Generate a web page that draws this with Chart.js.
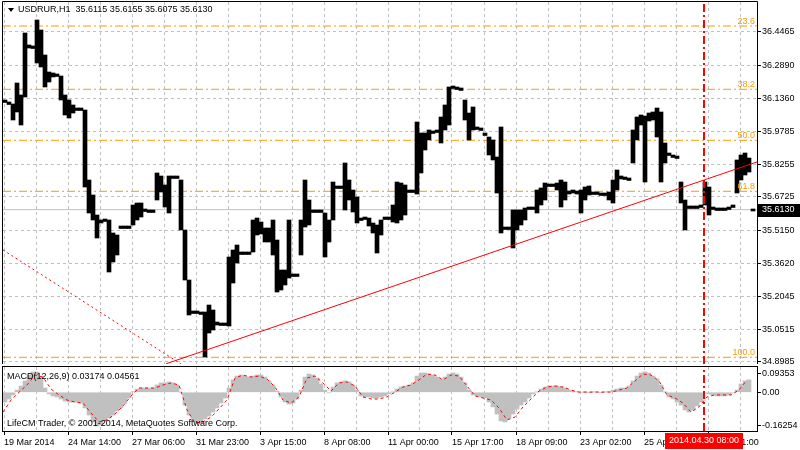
<!DOCTYPE html>
<html>
<head>
<meta charset="utf-8">
<script src="https://cdn.jsdelivr.net/npm/chart.js"></script>
<style>
  body { margin: 0; background: #fff; }
  #wrap { position: relative; width: 800px; height: 450px; overflow: hidden; }
  #wrap canvas { position: absolute; left: 0; }
  #price { top: 0; }
  #macd { top: 364px; }
</style>
</head>
<body>
<div id="wrap">
  <canvas id="price" width="800" height="372"></canvas>
  <canvas id="macd" width="800" height="86"></canvas>
</div>
<script>
const symbolTitle = 'USDRUR,H1  35.6115 35.6155 35.6075 35.6130';
const lastClose = 35.6130;

// H1 bars in groups of 4 bars: high / low of each group
const priceHigh = [
  36.1275, 36.1181, 36.1087, 36.2072, 36.1510, 36.4418, 36.3855, 36.3808, 36.5028, 36.4559,
  36.3386, 36.2588, 36.2542, 36.2495, 36.2401, 36.1510, 36.1275, 36.1041, 36.0900, 36.0900,
  36.0806, 35.7522, 35.6819, 35.5880, 35.5646, 35.5692, 35.5646, 35.5036, 35.4942, 35.5364,
  35.5364, 35.5364, 35.6350, 35.6443, 35.6443, 35.6162, 35.6115, 35.6115, 35.7851, 35.7710,
  35.7288, 35.7710, 35.7710, 35.7710, 35.7522, 35.5177, 35.2831, 35.1377, 35.1377, 35.1330,
  35.1330, 35.1658, 35.1424, 35.0861, 35.0814, 35.0814, 35.3910, 35.4239, 35.4473, 35.4145,
  35.4145, 35.4145, 35.5646, 35.5739, 35.5552, 35.5270, 35.5270, 35.5646, 35.4708, 35.3300,
  35.3300, 35.5646, 35.3113, 35.3113, 35.5646, 35.7522, 35.6584, 35.6115, 35.6115, 35.6115,
  35.5974, 35.5646, 35.7428, 35.7241, 35.7241, 35.8320, 35.7522, 35.7053, 35.6725, 35.5739,
  35.5786, 35.5739, 35.5505, 35.5411, 35.5646, 35.5786, 35.5786, 35.6350, 35.7428, 35.7381,
  35.7288, 35.7053, 35.7053, 36.0243, 35.9727, 35.9727, 35.9868, 35.9821, 35.9868, 36.0478,
  36.1041, 36.1885, 36.1932, 36.1885, 36.1838, 36.1275, 36.0665, 36.0947, 36.0009, 35.9962,
  35.9727, 35.9539, 35.9399, 35.8601, 36.0009, 35.5317, 35.5317, 35.6115, 35.6115, 35.6115,
  35.6209, 35.6256, 35.6256, 35.7053, 35.7147, 35.7381, 35.7334, 35.7334, 35.7381, 35.7522,
  35.7428, 35.7006, 35.7053, 35.7006, 35.7053, 35.7194, 35.7241, 35.6959, 35.6959, 35.6912,
  35.6912, 35.6959, 35.7522, 35.7991, 35.7710, 35.7663, 35.7616, 35.9868, 36.0478, 36.0571,
  36.0524, 36.0665, 36.0712, 36.0900, 36.0712, 35.9258, 35.8789, 35.8695, 35.8648, 35.7428,
  35.6584, 35.6303, 35.6303, 35.6303, 35.6350, 35.7428, 35.7194, 35.6256, 35.6209, 35.6209,
  35.6209, 35.6256, 35.6350, 35.8461, 35.8695, 35.8789, 35.8554, 35.6162
];
const priceLow = [
  36.1158, 36.1064, 36.0337, 36.0712, 36.0102, 36.1416, 36.3714, 36.3691, 36.3011, 36.2823,
  36.1885, 36.2119, 36.2354, 36.2378, 36.1275, 36.0571, 36.0431, 36.0665, 36.0783, 36.0783,
  35.7194, 35.5974, 35.5646, 35.4801, 35.5505, 35.5575, 35.3206, 35.3676, 35.4004, 35.5247,
  35.5247, 35.5247, 35.5411, 35.5646, 35.5786, 35.6045, 35.5998, 35.5998, 35.6584, 35.6959,
  35.6256, 35.5974, 35.7593, 35.7593, 35.5177, 35.2831, 35.1189, 35.1260, 35.1260, 35.1213,
  34.9219, 35.0345, 35.0486, 35.0720, 35.0697, 35.0697, 35.0673, 35.2690, 35.3629, 35.4028,
  35.4028, 35.4028, 35.4145, 35.4942, 35.4989, 35.4614, 35.4614, 35.4004, 35.2268, 35.2362,
  35.2597, 35.2925, 35.2996, 35.2996, 35.4004, 35.5317, 35.5411, 35.5998, 35.5998, 35.5998,
  35.3910, 35.4614, 35.5646, 35.7124, 35.7124, 35.6115, 35.6584, 35.6021, 35.5505, 35.5622,
  35.5669, 35.5364, 35.5036, 35.4098, 35.4942, 35.5669, 35.5669, 35.5552, 35.5505, 35.5646,
  35.5880, 35.6936, 35.6936, 35.6865, 35.7851, 35.8930, 35.9399, 35.9704, 35.9751, 35.9258,
  35.9868, 36.0102, 36.1815, 36.1768, 36.1721, 36.0337, 35.9399, 35.9868, 35.9892, 35.9845,
  35.9610, 35.8695, 35.8461, 35.6912, 35.5036, 35.5200, 35.5200, 35.4333, 35.5177, 35.5411,
  35.5646, 35.6139, 35.6139, 35.5974, 35.6350, 35.6584, 35.7217, 35.7217, 35.7053, 35.6256,
  35.6584, 35.6865, 35.6912, 35.6865, 35.5974, 35.6584, 35.6819, 35.6842, 35.6842, 35.6795,
  35.6795, 35.6584, 35.6443, 35.7053, 35.7569, 35.7546, 35.7499, 35.8320, 35.9399, 36.0102,
  35.7428, 36.0290, 36.0337, 35.9539, 35.7428, 35.8320, 35.8672, 35.8578, 35.8531, 35.6443,
  35.5177, 35.6186, 35.6186, 35.6186, 35.6233, 35.6350, 35.5880, 35.6139, 35.6092, 35.6092,
  35.6092, 35.6139, 35.6233, 35.6912, 35.7522, 35.7757, 35.7897, 35.6068
];
const groupBars = 4;

const priceTicks = [36.4465, 36.2890, 36.1360, 35.9785, 35.8255, 35.6725, 35.5150, 35.3620, 35.2045, 35.0515, 34.8985];
const priceMin = 34.8891;
const priceMax = 36.5872;

const fibLevels = [36.4746, 36.1777, 35.9385, 35.6992, 34.9205];
const fibNames = ['23.6', '38.2', '50.0', '61.8', '100.0'];

// trend lines as [bar, price]
const trendUp = [[163, 34.890], [754, 35.837]];
const trendDown = [[0, 35.424], [178, 34.889]];

const markerBar = 701;
const markerLabel = '2014.04.30 08:00';

// MACD histogram, one value per 4-bar group; signal every 8 bars
const macdHist = [
  -0.048, -0.033, -0.013, 0.011, 0.031, 0.056, 0.085, 0.100, 0.100, 0.075,
  0.021, -0.008, -0.018, -0.023, -0.033, -0.043, -0.048, -0.048, -0.048, -0.053,
  -0.077, -0.112, -0.146, -0.166, -0.161, -0.141, -0.127, -0.112, -0.092, -0.077,
  -0.053, -0.028, 0.002, 0.016, 0.021, 0.021, 0.021, 0.021, 0.036, 0.046,
  0.046, 0.051, 0.046, 0.036, 0.000, -0.063, -0.112, -0.141, -0.151, -0.151,
  -0.131, -0.117, -0.097, -0.077, -0.053, -0.028, 0.021, 0.061, 0.080, 0.085,
  0.080, 0.075, 0.080, 0.085, 0.085, 0.075, 0.056, 0.036, 0.006, -0.023,
  -0.048, -0.058, -0.053, -0.033, 0.011, 0.075, 0.090, 0.085, 0.070, 0.041,
  0.011, -0.003, 0.026, 0.046, 0.051, 0.056, 0.051, 0.036, 0.011, -0.018,
  -0.023, -0.023, -0.028, -0.028, -0.023, -0.018, -0.008, 0.001, 0.016, 0.026,
  0.031, 0.036, 0.046, 0.080, 0.095, 0.095, 0.090, 0.085, 0.075, 0.065,
  0.075, 0.090, 0.095, 0.090, 0.075, 0.046, 0.011, -0.013, -0.018, -0.023,
  -0.028, -0.048, -0.072, -0.107, -0.141, -0.146, -0.131, -0.107, -0.082, -0.063,
  -0.048, -0.028, -0.008, 0.001, 0.016, 0.026, 0.031, 0.031, 0.031, 0.026,
  0.021, 0.011, 0.006, 0.002, -0.002, 0.001, -0.001, 0.001, 0.002, -0.001,
  0.001, 0.003, 0.011, 0.016, 0.021, 0.021, 0.031, 0.056, 0.080, 0.095,
  0.100, 0.095, 0.080, 0.065, 0.036, 0.001, -0.023, -0.033, -0.048, -0.063,
  -0.087, -0.097, -0.087, -0.067, -0.048, -0.003, -0.008, -0.013, -0.018, -0.018,
  -0.018, -0.013, -0.003, 0.011, 0.041, 0.056, 0.061
];
const macdSignal = [
  -0.097, -0.038, 0.000, 0.036, 0.085, 0.075, 0.016, -0.013, -0.038, -0.048,
  -0.053, -0.102, -0.146, -0.136, -0.107, -0.067, -0.018, 0.021, 0.021, 0.021,
  0.036, 0.046, 0.036, -0.087, -0.151, -0.146, -0.122, -0.082, -0.038, 0.070,
  0.085, 0.075, 0.080, 0.065, 0.026, -0.038, -0.053, -0.023, 0.070, 0.080,
  0.046, 0.006, 0.046, 0.051, 0.031, -0.023, -0.033, -0.033, -0.023, 0.001,
  0.026, 0.036, 0.061, 0.090, 0.085, 0.061, 0.085, 0.080, 0.031, -0.018,
  -0.028, -0.038, -0.077, -0.136, -0.122, -0.072, -0.033, 0.006, 0.026, 0.031,
  0.026, 0.011, 0.001, 0.001, 0.001, 0.001, 0.001, 0.011, 0.021, 0.056,
  0.090, 0.085, 0.056, -0.013, -0.028, -0.053, -0.097, -0.072, -0.023, -0.013,
  -0.013, -0.013, 0.011, 0.061
];
const signalStep = 8;
const macdTicks = [0.09353, 0, -0.16254];
const macdMin = -0.1905;
const macdMax = 0.1245;
const macdTitle = 'MACD(12,26,9) 0.03174 0.04561';
const copyrightText = 'LifeCM Trader, \u00a9 2001-2014, MetaQuotes Software Corp.';

const timeLabels = ['19 Mar 2014', '24 Mar 14:00', '27 Mar 06:00', '31 Mar 23:00', '3 Apr 15:00', '8 Apr 08:00',
  '11 Apr 00:00', '15 Apr 17:00', '18 Apr 09:00', '23 Apr 02:00', '25 Apr 18:00', '30 Apr 11:00'];
const lastBar = 754;

const FONT = '"Liberation Sans", Arial, sans-serif';
const GRID = '#c0c0c0';
const ORANGE = '#ff9900';
const RED = '#ff0000';

Chart.defaults.font.family = FONT;
Chart.defaults.font.size = 9;
Chart.defaults.color = '#000';

// vertical grid every 32 bars, a time label on every second one
const gridBars = [];
for (let i = 0; i < timeLabels.length * 2; i++) gridBars.push(1 + i * 32);

function timeAxis(showLabels) {
  return {
    type: 'linear', min: 0, max: lastBar, offset: false,
    afterBuildTicks: s => { s.ticks = gridBars.map(v => ({ value: v })); },
    grid: {
      color: GRID, offset: false, drawTicks: showLabels, tickLength: 4,
      tickColor: c => (c.index % 2 === 0 ? '#000' : 'rgba(0,0,0,0)'), tickBorderDash: []
    },
    border: { display: false, dash: [3, 3] },
    ticks: {
      display: showLabels, autoSkip: false, maxRotation: 0, align: 'start', padding: 2,
      callback: (v, i) => (i % 2 === 0 ? timeLabels[i / 2] : '')
    },
    afterFit: s => {
      s.height = showLabels ? 19 : 0;
      s.paddingLeft = 0; s.paddingRight = 0;
    }
  };
}

const bars = priceHigh.map((h, k) => ({ x: k * groupBars + groupBars / 2, y: [priceLow[k], h] }));
const flatLine = v => [{ x: 0, y: v }, { x: lastBar, y: v }];

const priceDecor = {
  id: 'priceDecor',
  afterDraw(chart) {
    const { ctx, chartArea: a, scales: { y } } = chart;
    ctx.save();
    ctx.strokeStyle = '#000';
    ctx.lineWidth = 1;
    ctx.beginPath();
    ctx.moveTo(a.left - 0.5, a.bottom);
    ctx.lineTo(a.left - 0.5, a.top - 0.5);
    ctx.lineTo(a.right + 0.5, a.top - 0.5);
    ctx.lineTo(a.right + 0.5, a.bottom);
    ctx.stroke();

    ctx.font = '9px ' + FONT;
    ctx.fillStyle = ORANGE;
    ctx.textAlign = 'right';
    ctx.textBaseline = 'alphabetic';
    fibLevels.forEach((v, i) => ctx.fillText(fibNames[i], a.right - 2, y.getPixelForValue(v) - 2));

    // header
    ctx.fillStyle = '#000';
    ctx.beginPath();
    ctx.moveTo(8, 8); ctx.lineTo(14, 8); ctx.lineTo(11, 12); ctx.closePath();
    ctx.fill();
    ctx.textAlign = 'left';
    ctx.textBaseline = 'middle';
    ctx.fillText(symbolTitle, 18, 10);

    // current price box
    const py = y.getPixelForValue(lastClose);
    ctx.fillRect(a.right + 1, Math.round(py) - 6, 43, 13);
    ctx.fillStyle = '#fff';
    ctx.fillText(lastClose.toFixed(4), a.right + 5, py);
    ctx.restore();
  }
};

new Chart(document.getElementById('price'), {
  type: 'bar',
  data: {
    datasets: [
      { type: 'line', data: trendUp.map(([x, y]) => ({ x, y })), borderColor: RED, borderWidth: 1, pointRadius: 0, order: 0 },
      { type: 'line', data: trendDown.map(([x, y]) => ({ x, y })), borderColor: RED, borderWidth: 1, borderDash: [2, 3], pointRadius: 0, order: 0 },
      { type: 'line', data: [{ x: markerBar, y: priceMin }, { x: markerBar, y: priceMax }], borderColor: RED, borderWidth: 2, borderDash: [8, 3, 2, 3], pointRadius: 0, order: 0 },
      { type: 'bar', data: bars, backgroundColor: '#000', borderWidth: 0, barPercentage: 1, categoryPercentage: 1, order: 1 },
      { type: 'line', data: flatLine(lastClose), borderColor: GRID, borderWidth: 1, pointRadius: 0, order: 2 },
      ...fibLevels.map(v => ({ type: 'line', data: flatLine(v), borderColor: ORANGE, borderWidth: 1, borderDash: [8, 3, 2, 3], pointRadius: 0, order: 3 }))
    ]
  },
  options: {
    responsive: false, animation: false, devicePixelRatio: 1,
    layout: { padding: { left: 3, top: 2, right: 0, bottom: 8 }, autoPadding: false },
    plugins: { legend: { display: false }, tooltip: { enabled: false } },
    scales: {
      x: timeAxis(false),
      y: {
        position: 'right', min: priceMin, max: priceMax,
        afterBuildTicks: s => { s.ticks = priceTicks.map(v => ({ value: v })); },
        grid: { color: GRID, tickColor: '#000', tickLength: 4, tickBorderDash: [] },
        border: { display: false, dash: [3, 3] },
        ticks: { padding: 1, callback: v => v.toFixed(4) },
        afterFit: s => { s.width = 43; s.paddingTop = 0; s.paddingBottom = 0; }
      }
    }
  },
  plugins: [priceDecor]
});

const macdDecor = {
  id: 'macdDecor',
  afterDraw(chart) {
    const { ctx, chartArea: a, scales: { x } } = chart;
    ctx.save();
    ctx.strokeStyle = '#000';
    ctx.lineWidth = 1;
    ctx.strokeRect(a.left - 0.5, a.top - 0.5, a.right - a.left + 1, a.bottom - a.top + 1);
    ctx.font = '9px ' + FONT;
    ctx.fillStyle = '#000';
    ctx.textAlign = 'left';
    ctx.textBaseline = 'middle';
    ctx.fillText(macdTitle, 7, 13);
    ctx.fillText(copyrightText, 7, 60);

    const mx = x.getPixelForValue(markerBar);
    const w = Math.round(ctx.measureText(markerLabel).width + 8);
    ctx.fillStyle = RED;
    ctx.fillRect(Math.round(mx - w / 2), a.bottom + 2, w, 16);
    ctx.fillStyle = '#fff';
    ctx.textAlign = 'center';
    ctx.fillText(markerLabel, mx, a.bottom + 10);
    ctx.restore();
  }
};

new Chart(document.getElementById('macd'), {
  type: 'bar',
  data: {
    datasets: [
      { type: 'line', data: [{ x: markerBar, y: macdMin }, { x: markerBar, y: macdMax }], borderColor: RED, borderWidth: 2, borderDash: [8, 3, 2, 3], pointRadius: 0, order: 0 },
      { type: 'line', data: macdSignal.map((v, j) => ({ x: j * signalStep, y: v })), borderColor: RED, borderWidth: 1, borderDash: [3, 3], pointRadius: 0, order: 1 },
      { type: 'bar', data: macdHist.map((v, k) => ({ x: k * groupBars + groupBars / 2, y: v })), backgroundColor: GRID, borderWidth: 0, barPercentage: 1, categoryPercentage: 1, order: 2 }
    ]
  },
  options: {
    responsive: false, animation: false, devicePixelRatio: 1,
    layout: { padding: { left: 3, top: 3, right: 0, bottom: 0 }, autoPadding: false },
    plugins: { legend: { display: false }, tooltip: { enabled: false } },
    scales: {
      x: timeAxis(true),
      y: {
        position: 'right', min: macdMin, max: macdMax,
        afterBuildTicks: s => { s.ticks = macdTicks.map(v => ({ value: v })); },
        grid: { drawOnChartArea: false, tickColor: '#000', tickLength: 4 },
        border: { display: false },
        ticks: { padding: 1, callback: v => (v === 0 ? '0.00' : v.toFixed(5)) },
        afterFit: s => { s.width = 43; s.paddingTop = 0; s.paddingBottom = 0; }
      }
    }
  },
  plugins: [macdDecor]
});
</script>
</body>
</html>
